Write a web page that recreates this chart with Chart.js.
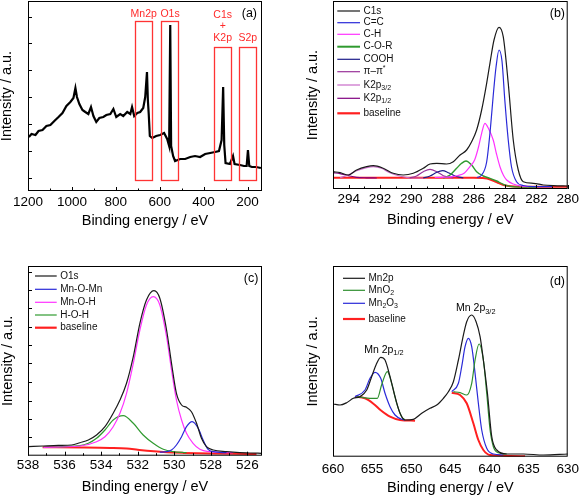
<!DOCTYPE html>
<html>
<head>
<meta charset="utf-8">
<script src="https://cdn.jsdelivr.net/npm/chart.js@4.4.0/dist/chart.umd.min.js"></script>
<style>
  html, body { margin: 0; padding: 0; background: #fff; }
  #fig { position: relative; width: 580px; height: 499px; }
  #fig canvas { position: absolute; }
</style>
</head>
<body>
<div id="fig">
  <canvas id="chart-a" width="290" height="250" style="left:0;top:0"></canvas>
  <canvas id="chart-b" width="290" height="250" style="left:290px;top:0"></canvas>
  <canvas id="chart-c" width="290" height="249" style="left:0;top:250px"></canvas>
  <canvas id="chart-d" width="290" height="249" style="left:290px;top:250px"></canvas>
</div>
<script>
// (a) survey spectrum, [binding energy eV, intensity a.u.]
const survey = [
  [1196,54],[1184,57],[1166,56],[1152,60],[1134,61],[1116,65],[1098,66],[1080,70],[1061,74],[1043,78],
  [1025,85],[1007,89],[993,93],[984,103],[977,94],[966,87],[952,81],[939,79],[925,77],[913,84],
  [902,75],[889,69],[875,73],[857,74],[843,76],[825,77],[811,82],[798,74],[780,77],[766,75],
  [748,79],[734,77],[726,84],[716,75],[702,78],[689,79],[675,83],[666,94],[658,119],[654,91],
  [650,77],[645,55],[634,53],[616,55],[598,56],[580,58],[566,52],[557,45],[552,166],[548,45],
  [539,35],[530,30],[507,32],[484,32],[461,34],[439,35],[416,34],[393,37],[370,38],[348,39],
  [330,40],[318,51],[311,104],[306,46],[300,28],[280,27],[266,35],[259,27],[234,26],[216,25],
  [204,25],[198,41],[192,25],[180,24],[161,24],[139,23]
];
// marked regions of the survey: [from eV, to eV, top intensity]
const surveyRegions = [[711, 635, 170], [592, 515, 170], [351, 275, 144], [237, 161.5, 144]];
const surveyRegionFloor = 11;
const surveyRegionLabels = [
  ['Mn2p', 673, 177], ['O1s', 553, 177], ['C1s', 313, 176], ['+', 313, 165], ['K2p', 313, 152.7], ['S2p', 199, 152.7]
];

// (b) C1s high resolution
const c1sTotal = [
  [294.98,17.3],[294.55,16.3],[294.02,14],[293.49,19],[292.85,22.3],[292.42,23.3],[291.79,20.7],[291.15,15.7],
  [290.51,14],[289.87,15.7],[289.23,20.7],[288.8,25],[288.37,25.7],[287.74,25],[287.31,27.3],[286.88,34],
  [286.46,39],[286.14,47.3],[285.82,59],[285.5,79],[285.18,105.7],[284.97,125.7],[284.71,149],[284.39,161.7],
  [284.12,152.3],[283.8,105.7],[283.48,49],[283.16,19],[282.84,7.3],[282.2,5.7],[281.56,4],[280.92,3.3],[280.0,3]
];
const c1sCC = [
  [285.8,11.5],[285.5,14],[285.18,27],[284.97,55.7],[284.71,102],[284.58,122],[284.39,139],[284.2,128],
  [284.02,89],[283.8,49],[283.59,22],[283.27,7.3],[282.84,3.5],[282.2,2.4],[281,2.3]
];
const c1sCH = [
  [288.5,11.5],[287.5,12.2],[287.0,13.5],[286.6,16],[286.25,22.3],[285.95,29],[285.7,42],[285.5,55.7],
  [285.29,65.7],[285.05,60],[284.76,49],[284.55,35],[284.33,22.3],[284.1,13.5],[283.9,9],[283.48,5],[283.0,3],[282.5,2.4]
];
const c1sCOR = [
  [287.95,11],[287.52,14],[287.1,20.7],[286.78,25.7],[286.5,28],[286.14,24],[285.82,17.3],[285.39,13],
  [284.97,10.7],[284.54,8],[284.12,4.7],[283.69,2.6],[283.05,1.9],[282,1.9]
];
const c1sCOOH = [[289.23,11],[288.8,13],[288.37,16.7],[288.0,18.3],[287.63,16.3],[287.2,13],[286.67,11]];
const c1sPi = [[290.1,11],[289.66,13],[289.23,17.3],[288.8,19.7],[288.37,17.3],[287.95,13.3],[287.31,11]];
const c1sK32 = [
  [294.55,11.3],[294.02,14],[293.49,18.3],[292.85,21.3],[292.42,22.3],[291.9,20.7],[291.37,16.3],[290.73,13],[290.1,11.2],[289.23,11]
];
const c1sK12 = [[294.98,16.3],[294.55,15.3],[294.02,13.3],[293.49,11.7],[292.85,11.2],[292.2,11]];
const c1sBase = [
  [295,11.2],[286,11.2],[285.3,10.8],[285.0,9.8],[284.7,8],[284.4,5.8],[284.1,4],[283.8,3],[283.4,2.5],[282.5,2.3],[280,2.3]
];

// (c) O1s high resolution
const o1sTotal = [
  [537.98,9],[537.16,9.7],[536.34,10.3],[535.61,10.7],[535.16,13],[534.7,15.7],[534.25,20.7],[533.79,29],
  [533.34,42.4],[532.97,55.7],[532.61,72.4],[532.24,99],[531.88,132.4],[531.52,155.7],[531.11,165],[530.79,157.4],
  [530.42,125.7],[530.15,92.4],[529.88,62.4],[529.6,50.7],[529.33,48.4],[529.06,44],[528.78,32.4],[528.51,17.4],
  [528.24,9],[527.87,5.7],[527.14,4],[526.42,3],[525.87,2.7],[525.23,2.4]
];
const o1sMnOMn = [
  [530.79,3.5],[530.42,4],[530.15,5.7],[529.88,10.7],[529.6,19],[529.33,29],[529.02,34],[528.69,27.4],
  [528.42,15.7],[528.15,6.4],[527.87,4],[527.14,3]
];
const o1sMnOH = [
  [537.16,8.4],[535.16,9.7],[534.25,14],[533.79,19],[533.34,29],[532.97,42.4],[532.61,62.4],[532.24,92.4],
  [531.88,125.7],[531.52,150.7],[531.15,159],[530.79,150.7],[530.42,119],[530.15,85.7],[529.88,55.7],[529.6,35.7],
  [529.33,22.4],[528.97,12.4],[528.6,6.4],[528.06,4],[526.78,3]
];
const o1sHOH = [
  [537.16,8.5],[535.16,10],[534.7,12.4],[534.25,17.4],[533.79,25.7],[533.34,35.7],[532.79,40],[532.24,32.4],
  [531.7,20.7],[531.15,12.4],[530.6,6.4],[530.06,4],[529.33,3]
];
const o1sBase = [
  [537.2,8.4],[535,8.2],[533.5,7.8],[532.6,7.2],[532,6],[531.3,4.6],[530.6,3.6],[529.5,2.8],[528,2.2],[526,1.8],[525.5,1.7]
];

// (d) Mn2p high resolution
const mn2pTotal = [
  [659.96,52.7],[659.1,51.7],[658.25,54],[657.4,58.4],[656.55,60],[655.69,66.7],[655.06,80],[654.5,91.7],
  [653.9,99.4],[653.35,96.7],[652.71,80],[652.07,60],[651.43,43.4],[650.79,36.7],[649.73,37.4],[648.66,43.4],
  [647.6,48.4],[646.74,51.7],[645.89,58.4],[645.25,65],[644.61,75],[643.97,96.7],[643.42,118.4],[642.91,135],
  [642.27,141.7],[641.71,135],[641.2,120],[640.78,96.7],[640.26,63.4],[639.71,20],[639.07,6.7],[637.79,2.7],
  [635.66,2.7],[633.1,1.7],[630.0,2.7]
];
const mnO2Low = [
  [656.97,60],[655.06,58.4],[654.33,58.4],[653.78,72],[653.05,85],[652.5,73.4],[651.86,53.4],[651.22,40],[650.79,36.7]
];
const mnO2High = [
  [644.61,65],[643.76,64],[642.91,61.7],[642.27,73.4],[641.84,96.7],[641.33,112.7],[640.78,96.7],[640.35,63.4],
  [639.92,26.7],[639.5,10],[638.86,4],[637.79,2.7]
];
const mn2O3Low = [
  [657.19,60],[655.91,66.7],[655.27,78.4],[654.63,84.4],[653.9,78.4],[653.35,63.4],[652.71,50],[652.07,41.7],
  [651.22,37.4],[650.79,36.7]
];
const mn2O3High = [
  [644.82,65],[643.97,73.4],[643.55,90],[643.12,110],[642.7,118.4],[642.27,110],[641.84,83.4],[641.42,53.4],
  [640.99,26.7],[640.35,8.4],[639.5,2.7],[638.22,1.7]
];
const mnBaseLow = [[657.19,60],[655.91,58.4],[654.84,53],[653.9,46.4],[652.71,40],[651.43,36.7],[649.51,36]];
const mnBaseHigh = [[644.82,64],[643.76,61.7],[642.91,53.4],[642.06,33.4],[641.42,16.7],[640.78,6.7],[639.92,1.7],[635.45,0.5]];

// axis ticks
const ticksA = [200, 300, 400, 500, 600, 700, 800, 900, 1000, 1100, 1200];
const labelsA = [200, 400, 600, 800, 1000, 1200];
const yTicksA = [13, 40, 67, 94, 121, 148, 174];
const ticksB = [280, 281, 282, 283, 284, 285, 286, 287, 288, 289, 290, 291, 292, 293, 294];
const labelsB = [280, 282, 284, 286, 288, 290, 292, 294];
const ticksC = [526, 527, 528, 529, 530, 531, 532, 533, 534, 535, 536, 537, 538];
const labelsC = [526, 528, 530, 532, 534, 536, 538];
const yTicksC = [18.4, 36.7, 55, 73.4, 92.4, 110.7, 129, 147.4, 165.7, 184];
const ticksD = [630, 635, 640, 645, 650, 655, 660];

const FONT = '"Liberation Sans", Arial, sans-serif';
Chart.defaults.font.family = FONT;
Chart.defaults.color = '#000';

const toXY = pairs => pairs.map(([x, y]) => ({ x, y }));

function lineSet(label, pairs, color, width, extra) {
  return Object.assign({
    label: label,
    data: toXY(pairs),
    borderColor: color,
    backgroundColor: color,
    borderWidth: width,
    pointRadius: 0,
    showLine: true,
    fill: false,
    cubicInterpolationMode: 'monotone'
  }, extra || {});
}

// text with _{sub} and ^{sup} pieces
function drawRich(ctx, text, x, y, size, align, color) {
  const parts = [];
  const re = /([_^])\{([^}]*)\}/g;
  let last = 0, m;
  while ((m = re.exec(text))) {
    if (m.index > last) parts.push({ s: text.slice(last, m.index), k: '' });
    parts.push({ s: m[2], k: m[1] });
    last = re.lastIndex;
  }
  if (last < text.length) parts.push({ s: text.slice(last), k: '' });
  const fontFor = k => (k ? size * 0.7 : size) + 'px ' + FONT;
  let total = 0;
  parts.forEach(p => { ctx.font = fontFor(p.k); p.w = ctx.measureText(p.s).width; total += p.w; });
  let cx = align === 'center' ? x - total / 2 : align === 'right' ? x - total : x;
  ctx.fillStyle = color;
  ctx.textBaseline = 'middle';
  ctx.textAlign = 'left';
  parts.forEach(p => {
    ctx.font = fontFor(p.k);
    const dy = p.k === '_' ? size * 0.32 : p.k === '^' ? -size * 0.35 : 0;
    ctx.fillText(p.s, cx, y + dy);
    cx += p.w;
  });
}

// frame, inward ticks, legend and labels of one panel
function decorPlugin(cfg) {
  return {
    id: 'decor',
    afterDraw(chart) {
      const { ctx, chartArea: a } = chart;
      const x = chart.scales.x, y = chart.scales.y;
      ctx.save();

      (cfg.boxes || []).forEach(b => {
        const x1 = x.getPixelForValue(b[0]), x2 = x.getPixelForValue(b[1]);
        const y1 = y.getPixelForValue(b[2]), y2 = y.getPixelForValue(surveyRegionFloor);
        ctx.strokeStyle = '#ff3333';
        ctx.lineWidth = 1.3;
        ctx.strokeRect(Math.round(Math.min(x1, x2)) + 0.5, Math.round(y1) + 0.5, Math.round(Math.abs(x2 - x1)), Math.round(y2 - y1));
      });

      ctx.strokeStyle = '#000';
      ctx.lineWidth = 1;
      ctx.strokeRect(a.left + 0.5, a.top + 0.5, a.right - a.left - 1, a.bottom - a.top - 1);

      if (cfg.xMarks) {
        x.ticks.forEach(t => {
          const px = Math.round(x.getPixelForValue(t.value)) + 0.5;
          const len = t.label ? 4 : 2.5;
          ctx.beginPath();
          ctx.moveTo(px, a.bottom);
          ctx.lineTo(px, a.bottom - len);
          ctx.stroke();
        });
      }
      y.ticks.forEach(t => {
        const py = Math.round(y.getPixelForValue(t.value)) + 0.5;
        ctx.beginPath();
        ctx.moveTo(a.left, py);
        ctx.lineTo(a.left + 4, py);
        ctx.stroke();
      });

      if (cfg.legend) {
        const L = cfg.legend;
        const entries = chart.data.datasets.filter(d => !d.legendHide);
        entries.forEach((d, i) => {
          const ry = L.rows[i];
          ctx.strokeStyle = d.borderColor;
          ctx.lineWidth = d.legendWidth || d.borderWidth;
          ctx.beginPath();
          ctx.moveTo(L.x, ry);
          ctx.lineTo(L.x + L.len, ry);
          ctx.stroke();
          drawRich(ctx, d.legendText || d.label, L.x + L.len + 3.5, ry, 10, 'left', '#111');
        });
      }

      (cfg.texts || []).forEach(t => {
        const px = t.data ? x.getPixelForValue(t.x) : t.x;
        const py = t.data ? y.getPixelForValue(t.y) : t.y;
        drawRich(ctx, t.text, px, py, t.size, t.align || 'center', t.color || '#000');
      });
      ctx.restore();
    }
  };
}

function makePanel(id, cfg) {
  return new Chart(document.getElementById(id), {
    type: 'scatter',
    data: { datasets: cfg.datasets },
    options: {
      responsive: false,
      animation: false,
      devicePixelRatio: 1,
      layout: { padding: cfg.padding },
      plugins: { legend: { display: false }, tooltip: { enabled: false } },
      scales: {
        x: {
          type: 'linear', reverse: true, min: cfg.xMin, max: cfg.xMax,
          grid: { display: false, drawTicks: false },
          border: { display: false },
          afterBuildTicks: s => { s.ticks = cfg.xTicks.map(v => ({ value: v })); },
          afterFit: s => { s.height = cfg.xHeight; },
          ticks: {
            autoSkip: false, maxRotation: 0, padding: cfg.xTickPad,
            font: { size: 13.5 }, color: '#000',
            callback: v => cfg.xLabels.includes(v) ? String(v) : ''
          },
          title: {
            display: true, text: 'Binding energy / eV', color: '#000',
            font: { size: 14.5, lineHeight: 1 }, padding: { top: 0, bottom: cfg.xTitlePad }
          }
        },
        y: {
          min: 0, max: cfg.yMax,
          grid: { display: false, drawTicks: false },
          border: { display: false },
          ticks: { display: false },
          afterBuildTicks: s => { s.ticks = cfg.yTicks.map(v => ({ value: v })); },
          afterFit: s => { s.width = cfg.yWidth; },
          title: {
            display: true, text: 'Intensity / a.u.', color: '#000',
            font: { size: 14.5, lineHeight: 1 }, padding: { top: cfg.yTitlePad, bottom: 0 }
          }
        }
      }
    },
    plugins: [decorPlugin(cfg.decor)]
  });
}

// (a)
makePanel('chart-a', {
  datasets: [lineSet('Survey', survey, '#000', 2.2, { cubicInterpolationMode: 'default', tension: 0 })],
  padding: { left: 0, top: 1, right: 28, bottom: 0 },
  xMin: 134, xMax: 1200, xTicks: ticksA, xLabels: labelsA, xHeight: 59, xTickPad: 3, xTitlePad: 21.5,
  yMax: 190, yTicks: yTicksA, yWidth: 28, yTitlePad: 0,
  decor: {
    xMarks: true,
    boxes: surveyRegions,
    texts: surveyRegionLabels.map(([text, ex, ey]) => ({ text, x: ex, y: ey, data: true, size: 10.5, color: '#ff2a2a' }))
      .concat([{ text: '(a)', x: 257, y: 14, size: 12.5, align: 'right' }])
  }
});

// (b)
makePanel('chart-b', {
  datasets: [
    lineSet('C1s', c1sTotal, '#1a1a1a', 1.2),
    lineSet('C=C', c1sCC, '#2a2ad8', 1.2),
    lineSet('C-H', c1sCH, '#ff33ff', 1.2),
    lineSet('C-O-R', c1sCOR, '#2f9a2f', 1.4, { legendWidth: 2 }),
    lineSet('COOH', c1sCOOH, '#1c1c8a', 1.2),
    lineSet('π–π*', c1sPi, '#993399', 1.2, { legendText: 'π–π^{*}' }),
    lineSet('K2p3/2', c1sK32, '#c86ac8', 1.2, { legendText: 'K2p_{3/2}' }),
    lineSet('K2p1/2', c1sK12, '#800080', 1.2, { legendText: 'K2p_{1/2}' }),
    lineSet('baseline', c1sBase, '#ff2020', 2, { legendWidth: 2.2 })
  ],
  padding: { left: 0, top: 1, right: 12.3, bottom: 0 },
  xMin: 280, xMax: 295, xTicks: ticksB, xLabels: labelsB, xHeight: 61, xTickPad: 2, xTitlePad: 22.5,
  yMax: 188, yTicks: [], yWidth: 43, yTitlePad: 15.5,
  decor: {
    xMarks: true,
    legend: { x: 47.3, len: 22.7, rows: [11, 22.7, 34.3, 46.7, 59.3, 71.7, 85, 98.3, 113.3] },
    texts: [{ text: '(b)', x: 275, y: 13.3, size: 12.5, align: 'right' }]
  }
});

// (c)
makePanel('chart-c', {
  datasets: [
    lineSet('O1s', o1sTotal, '#1a1a1a', 1.2),
    lineSet('Mn-O-Mn', o1sMnOMn, '#2a2ad8', 1.2),
    lineSet('Mn-O-H', o1sMnOH, '#ff33ff', 1.2),
    lineSet('H-O-H', o1sHOH, '#2f9a2f', 1.2),
    lineSet('baseline', o1sBase, '#ff2020', 2, { legendWidth: 2.2 })
  ],
  padding: { left: 0, top: 16, right: 28, bottom: 0 },
  xMin: 525.2, xMax: 538, xTicks: ticksC, xLabels: labelsC, xHeight: 43.3, xTickPad: 1, xTitlePad: 4.5,
  yMax: 189.7, yTicks: yTicksC, yWidth: 28, yTitlePad: 0.3,
  decor: {
    xMarks: true,
    legend: { x: 35, len: 21.7, rows: [26, 39.3, 52.3, 65, 77.7] },
    texts: [{ text: '(c)', x: 258.3, y: 28.3, size: 12.5, align: 'right' }]
  }
});

// (d)
makePanel('chart-d', {
  datasets: [
    lineSet('Mn2p', mn2pTotal, '#1a1a1a', 1.2),
    lineSet('MnO2', mnO2Low, '#2f8f2f', 1.2, { legendText: 'MnO_{2}' }),
    lineSet('MnO2', mnO2High, '#2f8f2f', 1.2, { legendHide: true }),
    lineSet('Mn2O3', mn2O3Low, '#2a2ad8', 1.2, { legendText: 'Mn_{2}O_{3}' }),
    lineSet('Mn2O3', mn2O3High, '#2a2ad8', 1.2, { legendHide: true }),
    lineSet('baseline', mnBaseLow, '#ff2020', 2, { legendWidth: 2.2 }),
    lineSet('baseline', mnBaseHigh, '#ff2020', 2, { legendHide: true })
  ],
  padding: { left: 0, top: 16, right: 12.3, bottom: 0 },
  xMin: 630, xMax: 660, xTicks: ticksD, xLabels: ticksD, xHeight: 42.3, xTickPad: 4, xTitlePad: 3.5,
  yMax: 190.7, yTicks: [], yWidth: 43, yTitlePad: 15.5,
  decor: {
    xMarks: false,
    legend: { x: 53, len: 22, rows: [28.3, 40.3, 53.3, 69] },
    texts: [
      { text: 'Mn 2p_{3/2}', x: 641.75, y: 148.4, data: true, size: 10.5 },
      { text: 'Mn 2p_{1/2}', x: 653.5, y: 106.7, data: true, size: 10.5 },
      { text: '(d)', x: 275, y: 31.7, size: 12.5, align: 'right' }
    ]
  }
});
</script>
</body>
</html>
